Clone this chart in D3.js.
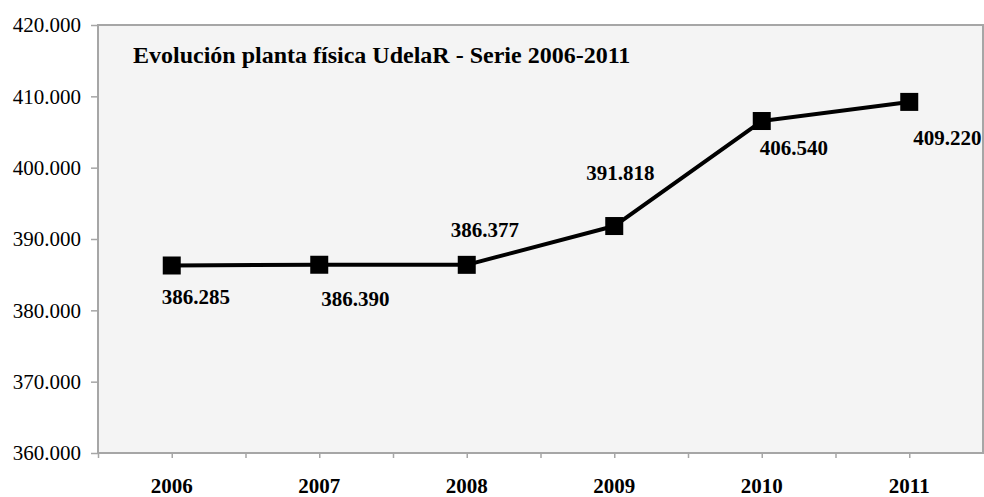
<!DOCTYPE html>
<html>
<head>
<meta charset="utf-8">
<script src="https://cdn.jsdelivr.net/npm/d3@7"></script>
<style>
    body { margin: 0; background: #fff; }
    svg text { font-family: "Liberation Serif", "Times New Roman", serif; }
</style>
</head>
<body>
<div id="chart"></div>
<script>
var years = ['2006', '2007', '2008', '2009', '2010', '2011'];
var superficie = [386285, 386390, 386377, 391818, 406540, 409220];
var yTicks = [360000, 370000, 380000, 390000, 400000, 410000, 420000];
var chartTitle = 'Evolución planta física UdelaR - Serie 2006-2011';

// label placement per point: [dx from marker centre to text start, dy to baseline]
var labelOffsets = [[-10, 38], [2, 41], [-16, -28], [-28, -46], [-2, 34], [4, 43]];

function drawChart() {
    var width = 984, height = 497;
    var plot = {left: 98, top: 25, right: 983, bottom: 453};

    var locale = d3.formatLocale({decimal: ',', thousands: '.', grouping: [3], currency: ['', '']});
    var fmt = locale.format(',d');

    var x = d3.scaleLinear().domain([0, years.length]).range([plot.left, plot.right]);
    var y = d3.scaleLinear().domain([360000, 420000]).range([plot.bottom, plot.top]);

    var svg = d3.select('#chart')
        .append('svg')
        .attr('width', width)
        .attr('height', height);

    svg.append('rect')
        .attr('x', plot.left)
        .attr('y', plot.top)
        .attr('width', plot.right - plot.left)
        .attr('height', plot.bottom - plot.top)
        .attr('fill', '#f4f4f4')
        .attr('stroke', '#a6a6a6')
        .attr('stroke-width', 2);

    // Y axis
    var yAxis = svg.append('g')
        .attr('transform', 'translate(' + plot.left + ',0)')
        .call(d3.axisLeft(y).tickValues(yTicks).tickFormat(fmt).tickSize(7).tickPadding(10));
    yAxis.select('.domain').remove();
    yAxis.selectAll('line').attr('stroke', '#a6a6a6').attr('stroke-width', 1.5);
    yAxis.selectAll('text')
        .attr('fill', '#000')
        .style('font-size', '21px');

    // X axis: ticks at category edges and centres
    var halfSteps = d3.range(0, years.length, 0.5);
    var xAxis = svg.append('g')
        .attr('transform', 'translate(0,' + plot.bottom + ')')
        .call(d3.axisBottom(x).tickValues(halfSteps).tickSize(5).tickFormat(''));
    xAxis.select('.domain').remove();
    xAxis.selectAll('line').attr('stroke', '#a6a6a6').attr('stroke-width', 1.5);

    svg.append('g')
        .selectAll('text')
        .data(years)
        .enter()
        .append('text')
        .attr('x', function (d, i) { return x(i + 0.5); })
        .attr('y', 493)
        .attr('text-anchor', 'middle')
        .style('font-size', '21px')
        .style('font-weight', 'bold')
        .text(function (d) { return d; });

    // Title
    svg.append('text')
        .attr('x', 133)
        .attr('y', 63)
        .style('font-size', '24px')
        .style('font-weight', 'bold')
        .text(chartTitle);

    var points = superficie.map(function (v, i) { return {i: i, value: v}; });

    var valueline = d3.line()
        .x(function (d) { return x(d.i + 0.5); })
        .y(function (d) { return y(d.value); });

    svg.append('path')
        .datum(points)
        .attr('d', valueline)
        .attr('fill', 'none')
        .attr('stroke', '#000')
        .attr('stroke-width', 4)
        .attr('stroke-linejoin', 'round');

    var size = 18;
    svg.append('g')
        .selectAll('rect')
        .data(points)
        .enter()
        .append('rect')
        .attr('x', function (d) { return x(d.i + 0.5) - size / 2; })
        .attr('y', function (d) { return y(d.value) - size / 2; })
        .attr('width', size)
        .attr('height', size)
        .attr('fill', '#000');

    svg.append('g')
        .selectAll('text')
        .data(points)
        .enter()
        .append('text')
        .attr('x', function (d) { return x(d.i + 0.5) + labelOffsets[d.i][0]; })
        .attr('y', function (d) { return y(d.value) + labelOffsets[d.i][1]; })
        .style('font-size', '21px')
        .style('font-weight', 'bold')
        .text(function (d) { return fmt(d.value); });
}

drawChart();
</script>
</body>
</html>
